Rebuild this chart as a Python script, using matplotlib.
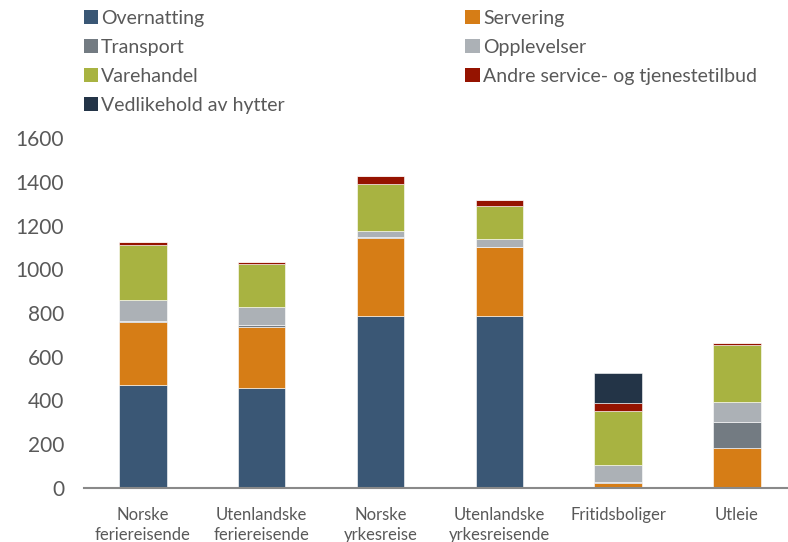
import numpy as np
import matplotlib.pyplot as plt
from matplotlib.patches import Patch

categories = ["Norske\nferiereisende", "Utenlandske\nferiereisende", "Norske\nyrkesreise",
              "Utenlandske\nyrkesreisende", "Fritidsboliger", "Utleie"]
series_names = ["Overnatting", "Servering", "Transport", "Opplevelser", "Varehandel",
                "Andre service- og tjenestetilbud", "Vedlikehold av hytter"]

overnatting = [473, 456, 788, 788, 0, 0]
servering = [286, 281, 353, 312, 21, 181]
transport = [5, 8, 5, 0, 6, 122]
opplevelser = [95, 81, 29, 38, 78, 92]
varehandel = [250, 199, 216, 152, 248, 259]
andre = [15, 8, 34, 27, 36, 7]
vedlikehold = [0, 0, 0, 0, 138, 0]

colors = ["#3A5775", "#D67D16", "#737B82", "#ACB1B6", "#A8B341", "#951300", "#233447"]
text_color = "#595959"

plt.rcParams["font.family"] = ["Lato", "DejaVu Sans"]

fig = plt.figure(figsize=(7.88, 5.42), dpi=100)
ax = fig.add_axes([83.5 / 788, 1 - 488 / 542, (788 - 83.5) / 788, 350 / 542])

x = np.arange(len(categories))
values = [overnatting, servering, transport, opplevelser, varehandel, andre, vedlikehold]
bottom = np.zeros(len(categories))
for name, vals, c in zip(series_names, values, colors):
    vals = np.array(vals, dtype=float)
    ax.bar(x, vals, bottom=bottom, width=0.40, color=c, edgecolor="white",
           linewidth=0.4, label=name)
    bottom += vals

ax.set_xlim(-0.5, (788 - 143) / 118.8)
ax.set_ylim(0, 1600)
ax.set_yticks(np.arange(0, 1601, 200))
ax.set_xticks(x)
ax.set_xticklabels(categories, fontsize=12, color=text_color, linespacing=1.3)
ax.tick_params(axis="y", length=0, labelsize=15, labelcolor=text_color, pad=14)
ax.tick_params(axis="x", length=0, pad=14)
for s in ["top", "right", "left"]:
    ax.spines[s].set_visible(False)
ax.spines["bottom"].set_color("#898989")
ax.spines["bottom"].set_linewidth(1.5)

# legend fills column-wise, so reorder to get row-wise layout
order = [0, 2, 4, 6, 1, 3, 5]
handles = [Patch(facecolor=colors[i], edgecolor="none") for i in order]
labels = [series_names[i] for i in order]
fig.legend(handles, labels, loc="upper left", bbox_to_anchor=(66 / 788, 1.014),
           ncol=2, frameon=False, fontsize=14, labelcolor=text_color,
           handlelength=0.75, handleheight=0.75, handletextpad=0.15,
           columnspacing=9.3, labelspacing=0.62)

fig.savefig("out.png", dpi=100)
